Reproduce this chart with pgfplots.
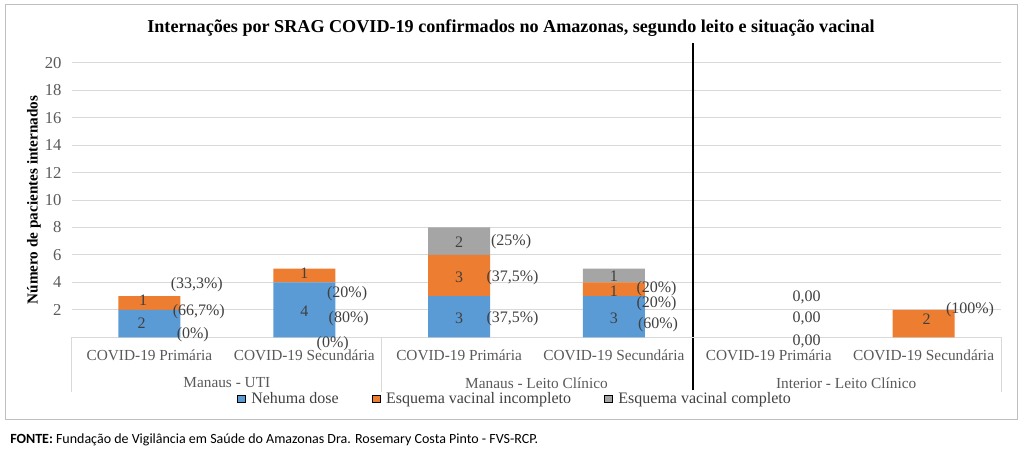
\documentclass[border=0pt]{standalone}
\usepackage{pgfplots}
\pgfplotsset{compat=1.18}
\usepackage{fontspec}
\setmainfont{Liberation Serif}
\newfontfamily\calibri{Carlito}
\definecolor{cblue}{HTML}{5B9BD5}
\definecolor{corange}{HTML}{ED7D31}
\definecolor{cgray}{HTML}{A5A5A5}
\definecolor{gridc}{HTML}{D9D9D9}
\definecolor{framec}{HTML}{BFBFBF}
\definecolor{txt}{HTML}{404040}
\definecolor{txtl}{HTML}{595959}
\tikzset{lbl/.style={font=\fontsize{11.5}{13}\selectfont, inner sep=0pt, text=txtl},
         plbl/.style={font=\fontsize{12}{14}\selectfont, inner sep=0pt, text=txt}}
\begin{document}
\begin{tikzpicture}
\useasboundingbox (0,0) rectangle (768pt,-339.75pt);
\draw[color=framec, line width=0.75pt] (3.75pt,-3.75pt) rectangle (763.1pt,-314.25pt);
\node[font=\fontsize{13.6}{15}\selectfont\bfseries, inner sep=0pt] at (383.25pt,-21pt) {Internações por SRAG COVID-19 confirmados no Amazonas, segundo leito e situação vacinal};
\node[anchor=west, font=\calibri\fontsize{10.5}{12}\selectfont, inner sep=0pt] at (7.5pt,-330pt) {\textbf{FONTE:} Fundação de Vigilância em Saúde do Amazonas Dra. Rosemary Costa Pinto - FVS-RCP.};
\begin{axis}[
  at={(54pt,-252.975pt)}, anchor=south west, scale only axis,
  width=696.75pt, height=205.95pt,
  xmin=-0.5, xmax=5.5, ymin=0, ymax=20,
  ybar stacked, bar width=46.5pt,
  axis line style={draw=none},
  ytick={2,4,...,20}, xtick={0,...,5},
  xticklabels={COVID-19 Primária, COVID-19 Secundária, COVID-19 Primária, COVID-19 Secundária, COVID-19 Primária, COVID-19 Secundária},
  major tick length=0pt,
  ymajorgrids, grid style={color=gridc, line width=0.75pt},
  xticklabel style={font=\fontsize{11.5}{13}\selectfont, anchor=center, yshift=-13.5pt, text=txtl},
  yticklabel style={font=\fontsize{12.5}{14}\selectfont, xshift=-4.4pt, text=txtl},
  /pgf/number format/assume math mode=true,
  ylabel={Número de pacientes internados},
  ylabel style={font=\fontsize{11.4}{13}\selectfont\bfseries, at={(axis description cs:-0.0409,0.5)}, anchor=center},
  clip=false,
  legend style={at={(axis description cs:0.1776,-0.2247)}, anchor=west, draw=none, fill=none,
     inner sep=0pt, font=\fontsize{12}{14}\selectfont, text=txt,
     /tikz/every odd column/.append style={column sep=2.5pt},
     /tikz/every even column/.append style={column sep=23pt}},
  legend columns=3,
  area legend,
  legend image post style={xscale=0.33, yscale=0.95},
  after end axis/.code={
    \node[lbl] at (axis cs:0.5,-3.33) {Manaus - UTI};
    \node[lbl] at (axis cs:2.5,-3.33) {Manaus - Leito Clínico};
    \node[lbl] at (axis cs:4.5,-3.33) {Interior - Leito Clínico};
    \node[plbl] at (axis cs:-0.05,1.0) {2};
    \node[plbl] at (axis cs:-0.04,2.7) {1};
    \node[plbl] at (axis cs:1,1.9) {4};
    \node[plbl] at (axis cs:1,4.65) {1};
    \node[plbl] at (axis cs:2,1.38) {3};
    \node[plbl] at (axis cs:2,4.34) {3};
    \node[plbl] at (axis cs:2,6.94) {2};
    \node[plbl] at (axis cs:3,1.41) {3};
    \node[plbl] at (axis cs:3,3.37) {1};
    \node[plbl] at (axis cs:3,4.46) {1};
    \node[plbl] at (axis cs:5.02,1.33) {2};
    \node[plbl] at (axis cs:0.306,3.82) {(33,3\%)};
    \node[plbl] at (axis cs:0.319,1.84) {(66,7\%)};
    \node[plbl] at (axis cs:0.28,0.17) {(0\%)};
    \node[plbl] at (axis cs:1.277,3.2) {(20\%)};
    \node[plbl] at (axis cs:1.287,1.38) {(80\%)};
    \node[plbl] at (axis cs:1.184,-0.49) {(0\%)};
    \node[plbl] at (axis cs:2.345,1.38) {(37,5\%)};
    \node[plbl] at (axis cs:2.345,4.34) {(37,5\%)};
    \node[plbl] at (axis cs:2.336,6.94) {(25\%)};
    \node[plbl] at (axis cs:3.275,3.52) {(20\%)};
    \node[plbl] at (axis cs:3.275,2.43) {(20\%)};
    \node[plbl] at (axis cs:3.285,0.90) {(60\%)};
    \node[plbl] at (axis cs:4.245,2.94) {0,00};
    \node[plbl] at (axis cs:4.245,1.41) {0,00};
    \node[plbl] at (axis cs:4.245,-0.27) {0,00};
    \node[plbl] at (axis cs:5.3,2.0) {(100\%)};
  },
]
\addplot[fill=cblue, draw=none] coordinates {(0,2) (1,4) (2,3) (3,3) (4,0) (5,0)};
\addlegendentry{Nehuma dose}
\addplot[fill=corange, draw=none] coordinates {(0,1) (1,1) (2,3) (3,1) (4,0) (5,2)};
\addlegendentry{Esquema vacinal incompleto}
\addplot[fill=cgray, draw=none] coordinates {(0,0) (1,0) (2,2) (3,1) (4,0) (5,0)};
\addlegendentry{Esquema vacinal completo}

\draw[color=gridc, line width=0.75pt] (axis cs:-0.5,0) -- (axis cs:5.5,0);
\draw[color=gridc, line width=0.75pt] (axis cs:-0.5,0) -- (axis cs:-0.5,-3.99);
\draw[color=gridc, line width=0.75pt] (axis cs:1.5,0) -- (axis cs:1.5,-3.99);
\draw[color=gridc, line width=0.75pt] (axis cs:5.5,0) -- (axis cs:5.5,-3.99);
\draw[black, line width=1.5pt] (axis cs:3.51,-3.84) -- (axis cs:3.51,21.43);
\end{axis}
\end{tikzpicture}
\end{document}
